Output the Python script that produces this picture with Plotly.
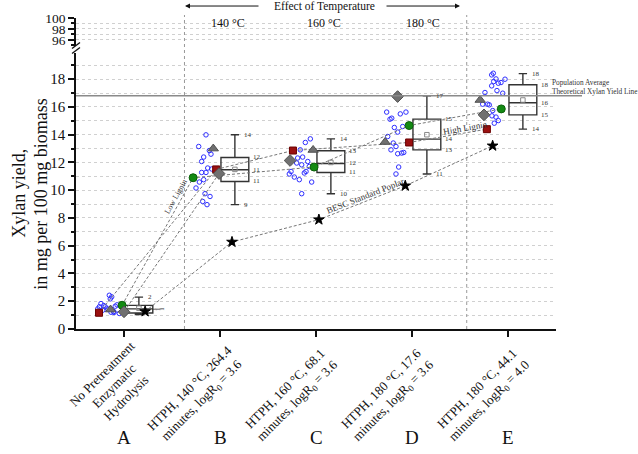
import plotly.graph_objects as go

# ---------------- data ----------------
categories = ["A", "B", "C", "D", "E"]
cat_pos = [1, 2, 3, 4, 5]
tick_text = [
    "No Pretreatment<br>Enzymatic<br>Hydrolysis",
    "HTPH, 140 °C, 264.4<br>minutes, logR<sub>0</sub> = 3.6",
    "HTPH, 160 °C, 68.1<br>minutes, logR<sub>0</sub> = 3.6",
    "HTPH, 180 °C, 17.6<br>minutes, logR<sub>0</sub> = 3.6",
    "HTPH, 180 °C, 44.1<br>minutes, logR<sub>0</sub> = 4.0",
]
temp_labels = ["140 °C", "160 °C", "180 °C"]

# box statistics
box_low = [1.05, 8.96, 9.75, 11.17, 14.4]
box_q1 = [1.15, 10.63, 11.28, 12.91, 15.43]
box_med = [1.45, 11.47, 11.93, 13.68, 16.3]
box_q3 = [1.70, 12.36, 12.84, 15.12, 17.6]
box_high = [2.30, 14.0, 13.7, 16.8, 18.4]
box_mean = [1.50, 11.5, 12.0, 14.0, 16.5]
box_labels = [
    ["2", "1", "1", "1", "1"],
    ["14", "12", "11", "11", "9"],
    ["14", "13", "12", "11", "10"],
    ["17", "15", "14", "13", "11"],
    ["18", "18", "16", "15", "14"],
]

# individual genotypes (value, horizontal jitter offset)
red_val = [1.17, 11.5, 12.86, 13.44, 14.4]
red_off = [-0.26, -0.04, -0.24, -0.03, -0.22]
green_val = [1.71, 10.9, 11.67, 14.66, 15.86]
green_off = [-0.02, -0.28, -0.02, -0.03, -0.07]
tri_val = [1.4, 13.0, 12.9, 13.47, 16.5]
tri_off = [-0.14, -0.07, -0.03, -0.28, -0.29]
dia_val = [1.24, 11.2, 12.14, 16.75, 15.43]
dia_off = [0.0, -0.01, -0.27, -0.15, -0.25]
star_val = [1.26, 6.27, 7.88, 10.32, 13.2]
star_off = [0.22, 0.125, 0.03, -0.07, -0.16]

# population samples (open blue circles)
pop_val = [
    [2.43, 2.32, 2.17, 1.83, 1.69, 1.60, 1.60, 1.45, 1.45, 1.35, 1.21, 1.26, 1.64, 1.74, 1.12, 1.19],
    [13.99, 13.15, 12.86, 12.6, 12.39, 12.07, 11.6, 11.28, 11.28, 11.53, 10.76, 10.59, 10.16, 9.75, 9.55, 9.19, 8.96],
    [13.7, 13.44, 12.91, 12.32, 12.39, 12.07, 11.96, 11.83, 11.71, 11.35, 11.24, 11.35, 11.17, 10.95, 10.76, 10.59, 9.75],
    [15.63, 15.19, 15.12, 15.5, 15.63, 14.52, 14.59, 14.19, 13.87, 13.4, 12.91, 13.15, 12.63, 12.68, 12.72, 11.67, 11.17],
    [18.43, 18.31, 18.02, 17.71, 17.76, 18.0, 17.83, 17.52, 17.18, 16.99, 17.04, 16.2, 16.2, 16.15, 15.74, 15.36, 15.27, 15.02, 14.83],
]
pop_off = [
    [-0.153, -0.128, -0.143, -0.240, -0.211, -0.257, -0.195, -0.170, -0.274, -0.222, -0.135, -0.107, -0.091, -0.073, -0.049, -0.104],
    [-0.146, -0.222, -0.111, -0.094, -0.170, -0.191, -0.128, -0.146, -0.191, -0.086, -0.170, -0.215, -0.25, -0.156, -0.104, -0.180, -0.135],
    [-0.059, -0.111, -0.164, -0.191, -0.139, -0.086, -0.201, -0.149, -0.070, -0.104, -0.122, -0.260, -0.278, -0.226, -0.174, -0.045, -0.149],
    [-0.264, -0.211, -0.229, -0.122, -0.063, -0.184, -0.097, -0.149, -0.253, -0.195, -0.219, -0.167, -0.149, -0.107, -0.086, -0.139, -0.167],
    [-0.153, -0.170, -0.125, -0.101, -0.073, -0.031, -0.149, -0.170, -0.115, -0.055, -0.240, -0.264, -0.212, -0.195, -0.159, -0.167, -0.125, -0.101, -0.143],
]
pop_avg_line = 16.8

# ---------------- figure ----------------
FONT = "Liberation Serif, Times New Roman, serif"
BOX_SHIFT = 0.155
fig = go.Figure()

# population samples
px, py = [], []
for c, vals, offs in zip(cat_pos, pop_val, pop_off):
    for v, o in zip(vals, offs):
        px.append(c + o)
        py.append(v)
fig.add_trace(go.Scatter(x=px, y=py, mode="markers",
                         marker=dict(symbol="circle-open", size=4.5, color="#2f2fff", line=dict(width=1))))

# boxes
fig.add_trace(go.Box(x=[c + BOX_SHIFT for c in cat_pos], q1=box_q1, median=box_med, q3=box_q3,
                     lowerfence=box_low, upperfence=box_high, width=0.29, whiskerwidth=0.3,
                     fillcolor="rgba(0,0,0,0)", line=dict(color="#333333", width=1.4), boxpoints=False))
fig.add_trace(go.Scatter(x=[c + BOX_SHIFT for c in cat_pos], y=box_mean, mode="markers",
                         marker=dict(symbol="square-open", size=4.5, color="#888888", line=dict(width=1))))

dash_line = dict(color="#777777", width=1, dash="3px,2px")

def series(vals, offs, symbol, size, color, lcolor, n_connect=5):
    xs = [c + o for c, o in zip(cat_pos, offs)]
    if n_connect > 1:
        fig.add_trace(go.Scatter(x=xs[:n_connect], y=vals[:n_connect], mode="lines", line=dash_line))
    fig.add_trace(go.Scatter(x=xs, y=vals, mode="markers",
                             marker=dict(symbol=symbol, size=size, color=color,
                                         line=dict(color=lcolor, width=1))))

series(red_val, red_off, "square", 7, "#9a1010", "#6a0000")
series(green_val, green_off, "circle", 8, "#138a13", "#0b600b")
series(star_val, star_off, "star", 8, "#000000", "#000000")
series(tri_val, tri_off, "triangle-up", 9, "#707070", "#505050", n_connect=0)
series(dia_val, dia_off, "diamond", 9, "#707070", "#505050", n_connect=2)

# invisible trace for upper axis
fig.add_trace(go.Scatter(x=[1], y=[97], yaxis="y2", mode="markers", marker=dict(opacity=0)))

ann = []
# box value labels
for i, (c, lab, lo, q1, md, q3, hi) in enumerate(zip(cat_pos, box_labels, box_low, box_q1, box_med,
                                                      box_q3, box_high)):
    xb = c + BOX_SHIFT
    ys = [hi, q3, md, q1, lo]
    if i == 0:
        # squeezed box: rotated labels side by side, as in the original
        dxs = [0.05, 0.16, 0.20, 0.24, None]
        for txt, yv, dx, ang in zip(lab, ys, dxs, [0, -90, -90, -90, 0]):
            if dx is None:
                continue
            ann.append(dict(x=xb + dx, y=yv if ang == 0 else md, xref="x", yref="y", text=txt,
                            showarrow=False, xanchor="left" if ang == 0 else "center",
                            yanchor="middle", xshift=2 if ang == 0 else 0, textangle=ang,
                            font=dict(size=7, color="#333333", family=FONT)))
        continue
    for txt, yv, dx in zip(lab, ys, [0.05, 0.15, 0.15, 0.15, 0.05]):
        ann.append(dict(x=xb + dx, y=yv, xref="x", yref="y", text=txt, showarrow=False,
                        xanchor="left", yanchor="middle", xshift=2,
                        font=dict(size=7, color="#333333", family=FONT)))

P = lambda v: (v - 76) / 480
Q = lambda v: (329.5 - v) / 311.5

# x category tick labels (rotated) and letters
label_centers = [(-0.10, 386), (-0.25, 396), (-0.25, 396), (-0.25, 396), (-0.25, 396)]
for c, txt, (dxc, ypx), letter in zip(cat_pos, tick_text, label_centers, categories):
    ann.append(dict(x=c + dxc, y=Q(ypx), xref="x", yref="paper", text=txt,
                    showarrow=False, textangle=-45, align="center", xanchor="center", yanchor="middle",
                    font=dict(size=13, color="#111111", family=FONT)))
    ann.append(dict(x=c, y=Q(438), xref="x", yref="paper", text=letter, xanchor="center",
                    yanchor="middle", showarrow=False,
                    font=dict(size=19, color="#111111", family=FONT)))

# temperature labels
for xv, t in zip([2.083, 3.083, 4.11], temp_labels):
    ann.append(dict(x=xv, y=Q(23), xref="x", yref="paper", text=t, showarrow=False,
                    xanchor="center", yanchor="middle",
                    font=dict(size=12, color="#111111", family=FONT)))

ann.append(dict(x=P(324), y=Q(6), xref="paper", yref="paper", text="Effect of Temperature",
                xanchor="center", yanchor="middle",
                showarrow=False, font=dict(size=11.5, color="#111111", family=FONT)))
ann.append(dict(x=P(185), y=Q(6), xref="paper", yref="paper", text="", showarrow=True,
                ax=75, ay=0, arrowhead=2, arrowsize=1, arrowwidth=1, arrowcolor="#111111"))
ann.append(dict(x=P(460), y=Q(6), xref="paper", yref="paper", text="", showarrow=True,
                ax=-75, ay=0, arrowhead=2, arrowsize=1, arrowwidth=1, arrowcolor="#111111"))

# line labels
ann.append(dict(x=1 + (175 - 123) / 96, y=Q(197), xref="x", yref="paper", text="Low Lignin",
                xanchor="center", yanchor="middle",
                showarrow=False, textangle=-61, font=dict(size=8, color="#333333", family=FONT)))
ann.append(dict(x=1 + (364 - 123) / 96, y=Q(196), xref="x", yref="paper", text="BESC Standard Poplar",
                xanchor="center", yanchor="middle",
                showarrow=False, textangle=-21.4, font=dict(size=9, color="#333333", family=FONT)))
ann.append(dict(x=1 + (464 - 123) / 96, y=Q(128), xref="x", yref="paper", text="High Lignin",
                xanchor="center", yanchor="middle",
                showarrow=False, textangle=-9.8, font=dict(size=9, color="#333333", family=FONT)))
ann.append(dict(x=P(550), y=Q(87.5), xref="paper", yref="paper",
                text="Population Average<br>Theoretical Xylan Yield Line", showarrow=False,
                xanchor="left", yanchor="middle", align="left",
                font=dict(size=7.3, color="#333333", family=FONT)))

# y title
ann.append(dict(x=P(19), y=Q(194), xref="paper", yref="paper", text="Xylan yield,", showarrow=False,
                xanchor="center", yanchor="middle",
                textangle=-90, font=dict(size=18, color="#111111", family=FONT)))
ann.append(dict(x=P(41), y=Q(194), xref="paper", yref="paper", text="in mg per 100 mg biomass",
                xanchor="center", yanchor="middle",
                showarrow=False, textangle=-90, font=dict(size=18, color="#111111", family=FONT)))

shapes = []
for xv in [1.63, 4.57]:
    shapes.append(dict(type="line", x0=xv, x1=xv, y0=0, y1=Q(15), xref="x", yref="paper",
                       line=dict(color="#999999", width=1, dash="dot")))
shapes.append(dict(type="line", x0=0, x1=P(582), y0=pop_avg_line, y1=pop_avg_line, xref="paper", yref="y",
                   line=dict(color="#8a8a8a", width=1.5)))
# axis break marks
for yb in [45.5, 50.5]:
    shapes.append(dict(type="line", x0=P(72), x1=P(80), y0=Q(yb + 3), y1=Q(yb - 3), xref="paper",
                       yref="paper", line=dict(color="#111111", width=1.3)))

axis_common = dict(showline=True, linecolor="#111111", linewidth=1.5, ticks="outside", ticklen=6,
                   tickwidth=1.5, tickcolor="#111111", showgrid=True, gridcolor="#d0d0d0",
                   griddash="dot", gridwidth=1, zeroline=False)

fig.update_layout(
    width=638, height=454, margin=dict(l=76, r=82, t=18, b=124.5),
    paper_bgcolor="white", plot_bgcolor="white", showlegend=False,
    font=dict(family=FONT),
    xaxis=dict(range=[0.5, 5.5], tickvals=cat_pos, ticktext=[""] * 5, showline=True,
               linecolor="#111111", linewidth=1.5, ticks="outside", ticklen=6, tickwidth=1.5,
               tickcolor="#111111", showgrid=False, zeroline=False),
    yaxis=dict(range=[0, 19.9], domain=[0, 0.888], dtick=2, tick0=0,
               tickfont=dict(size=15, color="#111111", family=FONT),
               minor=dict(dtick=1, ticks="outside", ticklen=3, tickcolor="#111111", showgrid=True,
                          gridcolor="#d0d0d0", griddash="dot"),
               **axis_common),
    yaxis2=dict(range=[94.9, 100], domain=[0.91, 1], tickvals=[96, 98, 100], anchor="x",
                tickfont=dict(size=13.5, color="#111111", family=FONT),
                minor=dict(dtick=1, ticks="outside", ticklen=3, tickcolor="#111111", showgrid=True,
                           gridcolor="#d0d0d0", griddash="dot"),
                **axis_common),
    annotations=ann, shapes=shapes,
)

fig.write_html("out.html", config={"displayModeBar": False},
               post_script="document.body.style.margin='0px';")
